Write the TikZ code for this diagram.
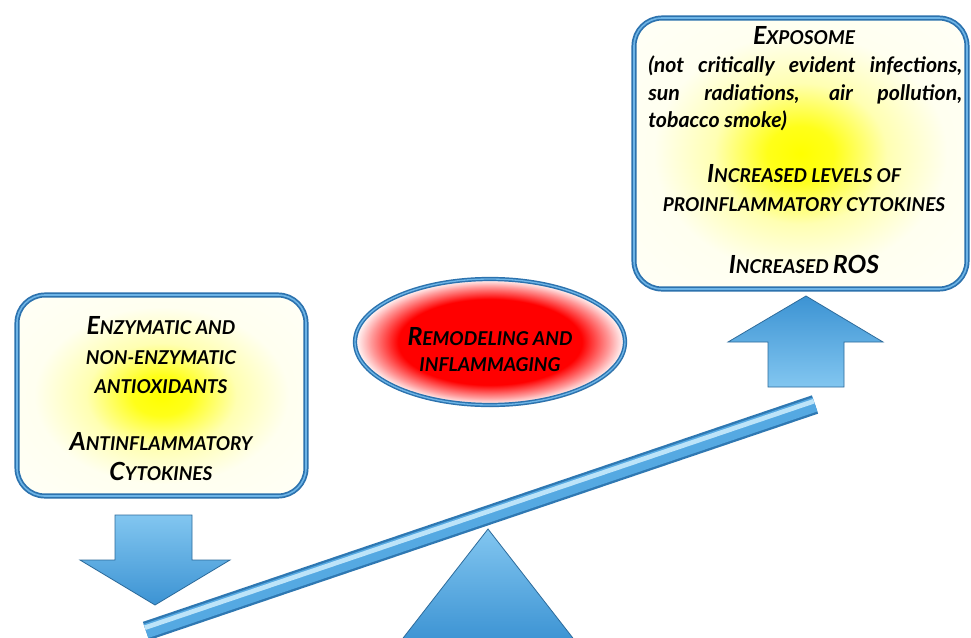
\documentclass[tikz,border=0pt]{standalone}
\usepackage{fontspec}
\setmainfont{Lato}
\usetikzlibrary{calc,shadows,shapes.geometric}
\definecolor{panelblue}{HTML}{2C72AE}
\definecolor{panellight}{HTML}{6DB4E6}
\definecolor{arrowedge}{HTML}{2D6B9B}
\definecolor{bluelite}{HTML}{82C6F0}
\definecolor{bluedeep}{HTML}{3C93D3}
\definecolor{beamdark}{HTML}{2F78B2}
\definecolor{beammid}{HTML}{55A9E2}
\definecolor{beamlight}{HTML}{BDE4F9}
\pgfdeclareradialshading{yglow}{\pgfpoint{0bp}{0bp}}{color(0bp)=(yellow); color(5bp)=(yellow!90!white); color(13bp)=(yellow!30!white); color(22bp)=(yellow!6!white); color(50bp)=(white)}
\pgfdeclareradialshading{rglow}{\pgfpoint{0bp}{0bp}}{color(0bp)=(red); color(17bp)=(red); color(22bp)=(red!40!white); color(25bp)=(white); color(50bp)=(white)}
\newcommand\BigL[1]{{\fontsize{18.7}{18.7}\selectfont #1}}
\tikzset{
  txt/.style={inner sep=0pt, anchor=base, text=black, font=\fontsize{14.3}{14.3}\selectfont\bfseries\itshape},
  para/.style={inner sep=0pt, anchor=base west, text=black, font=\fontsize{16}{16}\selectfont\bfseries\itshape},
  panel/.style={rectangle, rounded corners=21pt, inner sep=0pt, draw=panelblue, double=panellight, double distance=1.2pt, line width=1.3pt, shade, shading=yglow, drop shadow={opacity=0.3, shadow xshift=1pt, shadow yshift=-1.5pt}},
  blk/.style={draw=arrowedge, line width=0.6pt},
}
\begin{document}
\begin{tikzpicture}[x=0.75pt, y=-0.75pt]
\useasboundingbox (0,0) rectangle (971,637);
\fill[white] (0,0) rectangle (971,637);

% panels
\node[panel, minimum width=249.75pt, minimum height=203.25pt] (rbox) at (800.5,153.5) {};
\node[panel, minimum width=216.75pt, minimum height=150.75pt] (lbox) at (161.5,395.5) {};

% ellipse
\node[ellipse, minimum width=202.5pt, minimum height=94.5pt, inner sep=0pt, shade, shading=rglow, draw=panelblue, double=panellight, double distance=1pt, line width=1.1pt, drop shadow={opacity=0.3, shadow xshift=1pt, shadow yshift=-1.5pt}] (ell) at (490,342) {};

% right panel text
\node[txt] (t1) at (804,44) {\BigL{E}XPOSOME};
\node[para] (p1) at (648,72) {\makebox[235.5pt][s]{(not critically evident infections,}};
\node[para] (p2) at (648,100) {\makebox[235.5pt][s]{sun radiations, air pollution,}};
\node[para] (p3) at (648,127) {tobacco smoke)};
\node[txt] (t2) at (804,182) {\BigL{I}NCREASED LEVELS OF};
\node[txt] (t3) at (804,211) {PROINFLAMMATORY CYTOKINES};
\node[txt] (t4) at (804,273) {\BigL{I}NCREASED \BigL{ROS}};

% left panel text
\node[txt] (l1) at (161,334) {\BigL{E}NZYMATIC AND};
\node[txt] (l2) at (161,364) {NON-ENZYMATIC};
\node[txt] (l3) at (161,393) {ANTIOXIDANTS};
\node[txt] (l4) at (161,450) {\BigL{A}NTINFLAMMATORY};
\node[txt] (l5) at (161,480) {\BigL{C}YTOKINES};

% ellipse text
\node[txt] (e1) at (490,345) {\BigL{R}EMODELING AND};
\node[txt] (e2) at (490,371) {INFLAMMAGING};

% arrows
\draw[blk, top color=bluelite, bottom color=bluedeep]
  (115,515) -- (192,515) -- (192,560) -- (230,560) -- (155,605) -- (80,560) -- (115,560) -- cycle;
\draw[blk, top color=bluedeep, bottom color=bluelite]
  (806,296) -- (883,342) -- (844,342) -- (844,387) -- (768,387) -- (768,342) -- (728,342) -- cycle;

% fulcrum
\draw[blk, top color=bluelite, bottom color=bluedeep] (488,529) -- (576,642) -- (400,642) -- cycle;

% beam
\coordinate (bl) at (146,631);
\coordinate (br) at (815,404.5);
\draw[line width=14.5pt, beamdark] (bl) -- (br);
\draw[line width=11pt, beammid] (bl) -- (br);
\draw[line width=3.5pt, beamlight] ($(bl)!2.6pt!90:(br)$) -- ($(br)!2.6pt!-90:(bl)$);
\end{tikzpicture}
\end{document}
